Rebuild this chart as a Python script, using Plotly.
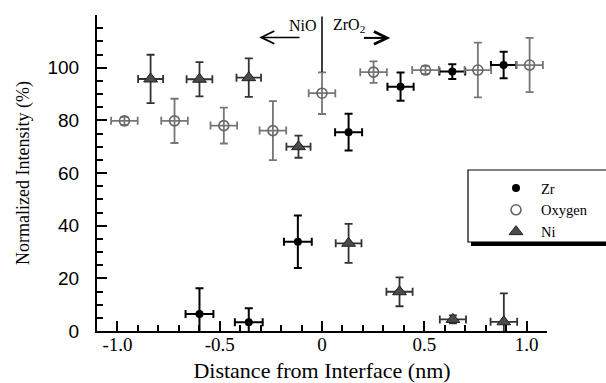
import plotly.graph_objects as go

# ---- data ----
zr_x = [-0.599, -0.358, -0.118, 0.130, 0.384, 0.637, 0.888]
zr_y = [6.5, 3.3, 33.9, 75.5, 92.8, 98.5, 101.0]
zr_err = [9.7, 5.3, 10.0, 7.0, 5.4, 2.8, 5.0]
zr_xerr = [0.068, 0.068, 0.068, 0.066, 0.064, 0.063, 0.062]

ox_x = [-0.966, -0.721, -0.480, -0.240, 0.0, 0.252, 0.506, 0.762, 1.015]
ox_y = [79.8, 79.8, 78.0, 76.1, 90.3, 98.3, 99.1, 99.1, 101.0]
ox_err = [1.5, 8.4, 6.8, 11.2, 7.9, 4.1, 1.5, 10.4, 10.3]
ox_xerr = [0.065, 0.065, 0.065, 0.065, 0.065, 0.065, 0.065, 0.065, 0.065]

ni_x = [-0.838, -0.599, -0.358, -0.115, 0.130, 0.379, 0.640, 0.889]
ni_y = [95.7, 95.6, 96.2, 70.0, 33.3, 14.9, 4.4, 3.5]
ni_err = [9.2, 6.5, 7.3, 4.2, 7.4, 5.5, 1.5, 10.8]
ni_xerr = [0.061, 0.063, 0.060, 0.059, 0.063, 0.064, 0.064, 0.065]

x_tickvals = [-1.0, -0.5, 0.0, 0.5, 1.0]
x_ticktext = ["-1.0", "-0.5", "0", "0.5", "1.0"]
y_tickvals = [0, 20, 40, 60, 80, 100]
y_ticktext = ["0", "20", "40", "60", "80", "100"]

SERIF = "Liberation Serif"
SANS = "Liberation Sans"

fig = go.Figure()

fig.add_trace(go.Scatter(
    x=zr_x, y=zr_y, mode="markers", name="Zr",
    marker=dict(symbol="circle", size=8, color="black"),
    error_y=dict(type="data", array=zr_err, color="black", thickness=2, width=4),
    error_x=dict(type="data", array=zr_xerr, color="black", thickness=2, width=4),
))
fig.add_trace(go.Scatter(
    x=ox_x, y=ox_y, mode="markers", name="Oxygen",
    marker=dict(symbol="circle-open", size=10, color="#666666", line=dict(width=1.6)),
    error_y=dict(type="data", array=ox_err, color="#777777", thickness=1.8, width=4),
    error_x=dict(type="data", array=ox_xerr, color="#777777", thickness=1.8, width=4),
))
fig.add_trace(go.Scatter(
    x=ni_x, y=ni_y, mode="markers", name="Ni",
    marker=dict(symbol="triangle-up", size=12, color="#4a4a4a", line=dict(width=1, color="#222222")),
    error_y=dict(type="data", array=ni_err, color="#333333", thickness=1.8, width=4),
    error_x=dict(type="data", array=ni_xerr, color="#333333", thickness=1.8, width=4),
))

L, R, T, B = 97, 59, 15, 52
W, H = 606, 383
pw, ph = W - L - R, H - T - B


def px2paper_x(px):
    return (px - L) / pw


def px2paper_y(py):
    return (H - B - py) / ph


# arrow geometry (annotation decoration, in data units)
ay_l, ay_r = 111.5, 111.3
lx_head, lx_tail = -0.297, -0.11
rx_head, rx_tail = 0.318, 0.205
hx, hy = 0.064, 2.4

shapes = [
    # interface line
    dict(type="line", xref="x", yref="y", x0=0, x1=0, y0=98.4, y1=119.4,
         line=dict(color="black", width=1.5)),
    # left arrow
    dict(type="line", xref="x", yref="y", x0=lx_tail, x1=lx_head, y0=ay_l, y1=ay_l,
         line=dict(color="black", width=1.5)),
    dict(type="path", xref="x", yref="y",
         path=f"M{lx_head + hx},{ay_l + hy} L{lx_head},{ay_l} L{lx_head + hx},{ay_l - hy}",
         line=dict(color="black", width=1.8)),
    # right arrow (bold)
    dict(type="line", xref="x", yref="y", x0=rx_tail, x1=rx_head, y0=ay_r, y1=ay_r,
         line=dict(color="black", width=2)),
    dict(type="path", xref="x", yref="y",
         path=f"M{rx_head - hx},{ay_r + hy} L{rx_head},{ay_r} L{rx_head - hx},{ay_r - hy}",
         line=dict(color="black", width=2.8)),
    # legend shadow
    dict(type="rect", xref="paper", yref="paper",
         x0=px2paper_x(471), x1=px2paper_x(640), y0=px2paper_y(246), y1=px2paper_y(173),
         fillcolor="black", line=dict(width=0), layer="above"),
    # legend box
    dict(type="rect", xref="paper", yref="paper",
         x0=px2paper_x(468), x1=px2paper_x(640), y0=px2paper_y(242), y1=px2paper_y(170),
         fillcolor="white", line=dict(color="black", width=1.2), layer="above"),
]

annotations = [
    dict(x=-0.095, y=116.2, xref="x", yref="y", text="NiO", showarrow=False,
         font=dict(family=SERIF, size=16, color="black")),
    dict(x=0.043, y=116.2, xref="x", yref="y", text="ZrO<sub>2</sub>", showarrow=False,
         xanchor="left", font=dict(family=SERIF, size=16, color="black")),
]

fig.update_layout(
    width=W, height=H,
    margin=dict(l=L, r=R, t=T, b=B, autoexpand=False),
    paper_bgcolor="white", plot_bgcolor="white",
    showlegend=True,
    legend=dict(x=px2paper_x(491), y=px2paper_y(172), xanchor="left", yanchor="top",
                bgcolor="rgba(0,0,0,0)", borderwidth=0, itemwidth=40,
                font=dict(family=SERIF, size=14.5, color="black"), tracegroupgap=0),
    shapes=shapes,
    annotations=annotations,
    xaxis=dict(
        range=[-1.1, 1.1], showgrid=False, zeroline=False, automargin=False,
        showline=True, linecolor="black", linewidth=2,
        tickmode="array", tickvals=x_tickvals, ticktext=x_ticktext,
        ticks="inside", ticklen=10, tickwidth=1.5, tickcolor="black",
        minor=dict(tickmode="array", tickvals=[round(-1.1 + 0.1 * i, 2) for i in range(23)],
                   ticks="inside", ticklen=6, tickwidth=1.5, tickcolor="black"),
        tickfont=dict(family=SERIF, size=19, color="black"),
        ticklabelstandoff=-5,
        title=dict(text="Distance from Interface (nm)", standoff=20,
                   font=dict(family=SERIF, size=22, color="black")),
    ),
    yaxis=dict(
        range=[0, 120], showgrid=False, zeroline=False, automargin=False,
        showline=True, linecolor="black", linewidth=2,
        tickmode="array", tickvals=y_tickvals, ticktext=y_ticktext,
        ticks="inside", ticklen=10, tickwidth=1.5, tickcolor="black",
        minor=dict(tickmode="array", tickvals=[5 * i for i in range(25)],
                   ticks="inside", ticklen=6, tickwidth=1.5, tickcolor="black"),
        tickfont=dict(family=SANS, size=19, color="black"),
        ticklabelstandoff=12,
        title=dict(text="Normalized Intensity (%)", standoff=13,
                   font=dict(family=SERIF, size=18, color="black")),
    ),
)

# remove the browser's default 8px page margin so the figure sits at the window origin
fig.write_html("out.html", config={"displayModeBar": False},
               post_script="document.body.style.margin='0';")
